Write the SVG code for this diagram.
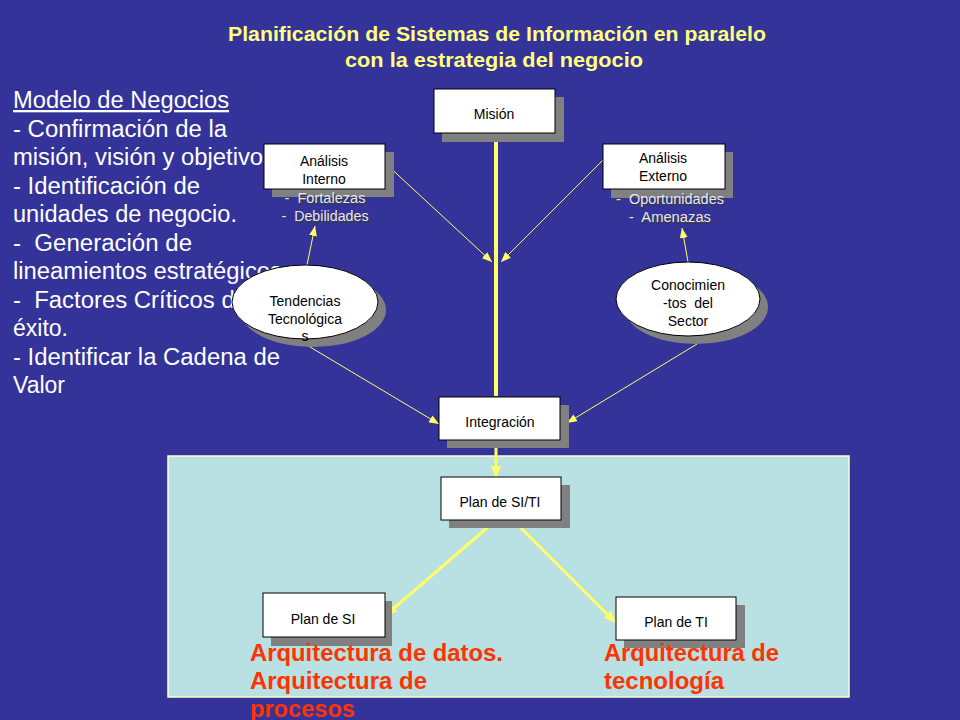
<svg xmlns="http://www.w3.org/2000/svg" width="960" height="720" viewBox="0 0 960 720">
<defs>
<style>
.box{fill:#ffffff;stroke:#000000;stroke-width:1}
.shd{fill:#808080}
.nt{font-family:"Liberation Sans",Arial,sans-serif;font-size:14px;fill:#000000;text-anchor:middle}
.lt{font-family:"Liberation Sans",Arial,sans-serif;font-size:23px;fill:#ffffff}
.ttl{font-family:"Liberation Sans",Arial,sans-serif;font-size:20px;font-weight:bold;fill:#FFFF80;text-anchor:middle}
.red{font-family:"Liberation Sans",Arial,sans-serif;font-size:23px;font-weight:bold;fill:#FF3300}
.sub{font-family:"Liberation Sans",Arial,sans-serif;font-size:14px;text-anchor:middle}
.subs{fill:#3a3a3a}
.subf{fill:#E6E6F2}
.thin{stroke:#FFFF66;stroke-width:1;fill:none}
.thick{stroke:#FFFF66;stroke-width:3;fill:none}
</style>
<marker id="ah" markerUnits="userSpaceOnUse" markerWidth="10" markerHeight="8" refX="10" refY="4" orient="auto">
<path d="M0,0 L10,4 L0,8 z" fill="#FFFF66"/>
</marker>
<marker id="ahb" markerUnits="userSpaceOnUse" markerWidth="12" markerHeight="10" refX="11" refY="5" orient="auto">
<path d="M0,0 L12,5 L0,10 z" fill="#FFFF66"/>
</marker>
</defs>
<rect width="960" height="720" fill="#333399"/>

<g id="title">
<text class="ttl" x="497" y="41" textLength="538" lengthAdjust="spacingAndGlyphs">Planificación de Sistemas de Información en paralelo</text>
<text class="ttl" x="494" y="67" textLength="298" lengthAdjust="spacingAndGlyphs">con la estrategia del negocio</text>
</g>

<g id="modelo-negocios">
<text class="lt" x="13" y="108" textLength="216" lengthAdjust="spacingAndGlyphs" text-decoration="underline">Modelo de Negocios</text>
<text class="lt" x="13" y="136.5" textLength="214" lengthAdjust="spacingAndGlyphs">- Confirmación de la</text>
<text class="lt" x="13" y="165" textLength="262" lengthAdjust="spacingAndGlyphs">misión, visión y objetivos</text>
<text class="lt" x="13" y="193.5" textLength="187" lengthAdjust="spacingAndGlyphs">- Identificación de</text>
<text class="lt" x="13" y="222" textLength="224" lengthAdjust="spacingAndGlyphs">unidades de negocio.</text>
<text class="lt" x="13" y="250.5" textLength="179" lengthAdjust="spacingAndGlyphs" xml:space="preserve">-  Generación de</text>
<text class="lt" x="13" y="279" textLength="269" lengthAdjust="spacingAndGlyphs">lineamientos estratégicos</text>
<text class="lt" x="13" y="307.5" textLength="235" lengthAdjust="spacingAndGlyphs" xml:space="preserve">-  Factores Críticos de</text>
<text class="lt" x="13" y="336">éxito.</text>
<text class="lt" x="13" y="364.5" textLength="267" lengthAdjust="spacingAndGlyphs">- Identificar la Cadena de</text>
<text class="lt" x="13" y="393">Valor</text>
</g>

<g id="panel">
<rect x="168" y="456" width="681" height="241" fill="#B9E0E3" stroke="#FFFFCC" stroke-width="1.5"/>
</g>

<g id="connectors">
<line x1="496" y1="133" x2="496" y2="396" stroke="#FFFF66" stroke-width="4"/>
<line class="thin" x1="385" y1="163" x2="492" y2="262" marker-end="url(#ah)"/>
<line class="thin" x1="603" y1="160" x2="501" y2="262" marker-end="url(#ah)"/>
<line class="thin" x1="307" y1="265" x2="315" y2="226" marker-end="url(#ah)"/>
<line class="thin" x1="688" y1="262" x2="682" y2="228" marker-end="url(#ah)"/>
<line class="thin" x1="300" y1="341" x2="439" y2="424" marker-end="url(#ah)"/>
<line class="thin" x1="697" y1="344" x2="567" y2="423" marker-end="url(#ah)"/>
<line class="thick" x1="496" y1="448" x2="496" y2="477" marker-end="url(#ahb)"/>
<line class="thick" x1="495" y1="521" x2="386" y2="615" marker-end="url(#ahb)"/>
<line class="thick" x1="521" y1="528" x2="615" y2="622" marker-end="url(#ahb)"/>
</g>

<g id="mision">
<rect class="shd" x="442" y="97" width="122" height="45"/>
<rect class="box" x="434" y="89" width="121" height="44"/>
<text class="nt" x="494" y="119">Misión</text>
</g>

<g id="analisis-interno">
<rect class="shd" x="272" y="152" width="122" height="45"/>
<rect class="box" x="264" y="144" width="121" height="45"/>
<text class="nt" x="324" y="166">Análisis</text>
<text class="nt" x="324" y="184">Interno</text>
<text class="sub subs" x="326.5" y="204.5" textLength="81" lengthAdjust="spacingAndGlyphs" xml:space="preserve">-  Fortalezas</text>
<text class="sub subf" x="325" y="203" textLength="81" lengthAdjust="spacingAndGlyphs" xml:space="preserve">-  Fortalezas</text>
<text class="sub subs" x="326.5" y="222.5" textLength="87" lengthAdjust="spacingAndGlyphs" xml:space="preserve">-  Debilidades</text>
<text class="sub subf" x="325" y="221" textLength="87" lengthAdjust="spacingAndGlyphs" xml:space="preserve">-  Debilidades</text>
</g>

<g id="analisis-externo">
<rect class="shd" x="611" y="152" width="122" height="46"/>
<rect class="box" x="603" y="144" width="122" height="45"/>
<text class="nt" x="663" y="163">Análisis</text>
<text class="nt" x="663" y="181">Externo</text>
<text class="sub subs" x="671.5" y="205.5" textLength="108" lengthAdjust="spacingAndGlyphs" xml:space="preserve">-  Oportunidades</text>
<text class="sub subf" x="670" y="204" textLength="108" lengthAdjust="spacingAndGlyphs" xml:space="preserve">-  Oportunidades</text>
<text class="sub subs" x="671.5" y="223.5" textLength="82" lengthAdjust="spacingAndGlyphs" xml:space="preserve">-  Amenazas</text>
<text class="sub subf" x="670" y="222" textLength="82" lengthAdjust="spacingAndGlyphs" xml:space="preserve">-  Amenazas</text>
</g>

<g id="tendencias">
<ellipse class="shd" cx="313" cy="310" rx="73" ry="37"/>
<ellipse class="box" cx="305" cy="302" rx="73" ry="37"/>
<text class="nt" x="305" y="306">Tendencias</text>
<text class="nt" x="305" y="324">Tecnológica</text>
<text class="nt" x="305" y="341">s</text>
</g>

<g id="conocimientos">
<ellipse class="shd" cx="696" cy="307" rx="72" ry="37"/>
<ellipse class="box" cx="688" cy="299" rx="72" ry="37"/>
<text class="nt" x="688" y="290">Conocimien</text>
<text class="nt" x="688" y="308" xml:space="preserve">-tos  del</text>
<text class="nt" x="688" y="326">Sector</text>
</g>

<g id="integracion">
<rect class="shd" x="447" y="405" width="122" height="43"/>
<rect class="box" x="439" y="397" width="121" height="43"/>
<text class="nt" x="500" y="427">Integración</text>
</g>

<g id="plan-si-ti">
<rect class="shd" x="449" y="485" width="121" height="43"/>
<rect class="box" x="441" y="477" width="120" height="43"/>
<text class="nt" x="500" y="507">Plan de SI/TI</text>
</g>

<g id="plan-si">
<rect class="shd" x="271" y="601" width="121" height="45"/>
<rect class="box" x="263" y="593" width="122" height="44"/>
<text class="nt" x="323" y="624">Plan de SI</text>
</g>

<g id="plan-ti">
<rect class="shd" x="624" y="605" width="121" height="43"/>
<rect class="box" x="616" y="597" width="120" height="43"/>
<text class="nt" x="676" y="627">Plan de TI</text>
</g>

<g id="arquitecturas">
<text class="red" x="250" y="661" textLength="253" lengthAdjust="spacingAndGlyphs">Arquitectura de datos.</text>
<text class="red" x="250" y="689" textLength="177" lengthAdjust="spacingAndGlyphs">Arquitectura de</text>
<text class="red" x="250" y="717" textLength="105" lengthAdjust="spacingAndGlyphs">procesos</text>
<text class="red" x="604" y="661" textLength="175" lengthAdjust="spacingAndGlyphs">Arquitectura de</text>
<text class="red" x="604" y="689" textLength="120" lengthAdjust="spacingAndGlyphs">tecnología</text>
</g>
</svg>
